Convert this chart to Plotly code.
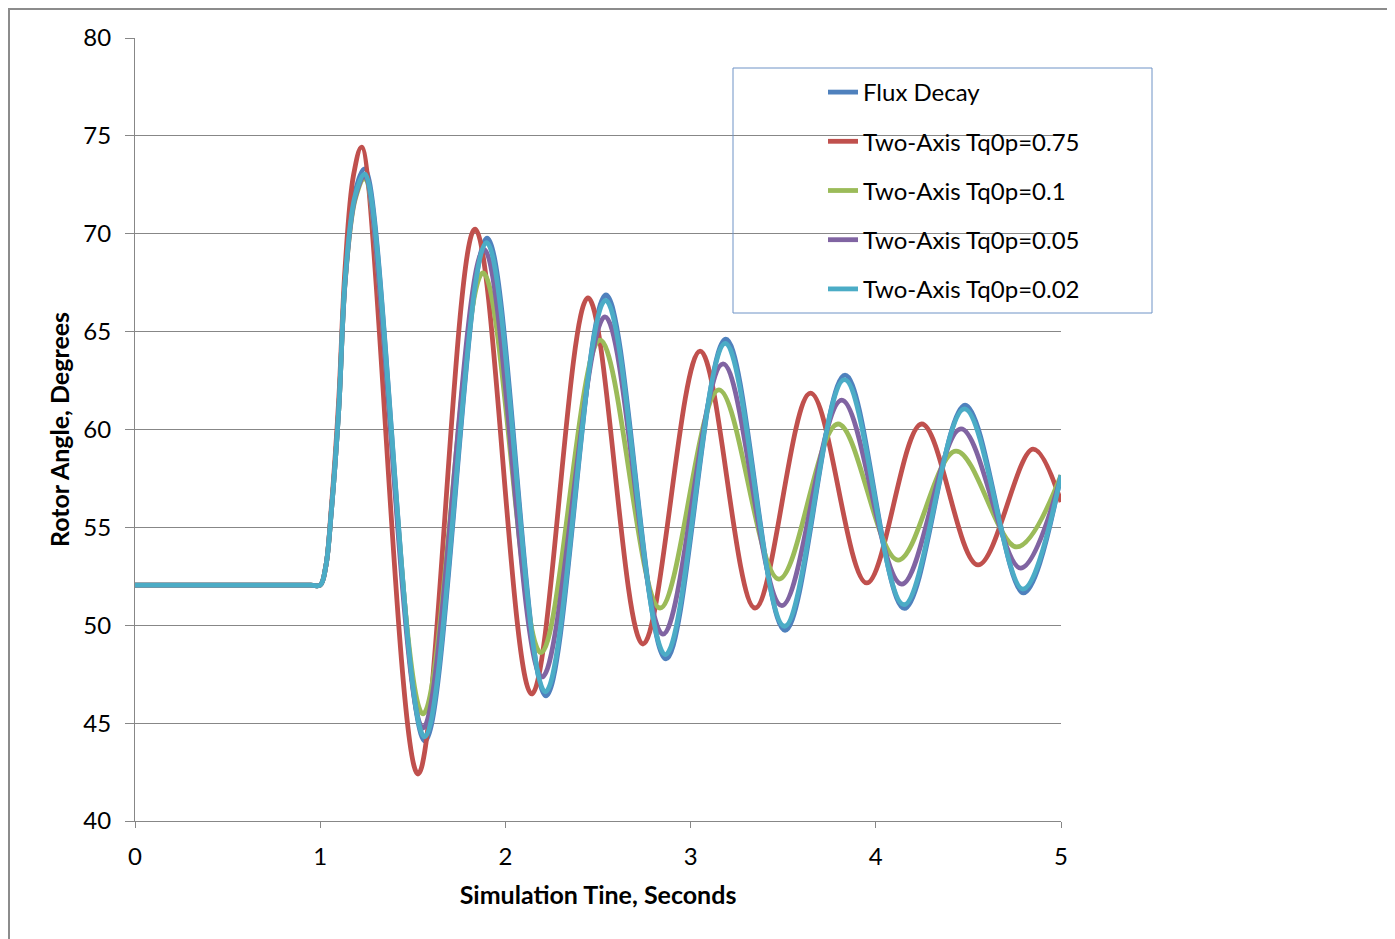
import plotly.graph_objects as go

# ---- data ----
t_flux = [0.0, 0.5, 0.95, 1.0, 1.03, 1.06, 1.10, 1.136, 1.19, 1.242, 1.566, 1.901, 2.219, 2.543,
          2.867, 3.190, 3.510, 3.834, 4.155, 4.482, 4.797, 5.0]
v_flux = [52.05, 52.05, 52.05, 52.05, 53.0, 55.8, 61.0, 67.8, 72.2, 73.31, 44.09, 69.78, 46.39, 66.87,
          48.28, 64.62, 49.74, 62.78, 50.86, 61.25, 51.65, 57.68]

t_r075 = [0.0, 0.5, 0.95, 1.0, 1.03, 1.06, 1.10, 1.134, 1.18, 1.224, 1.528, 1.836, 2.142, 2.446,
          2.743, 3.051, 3.348, 3.648, 3.951, 4.248, 4.552, 4.849, 5.0]
v_r075 = [52.05, 52.05, 52.05, 52.05, 53.0, 56.0, 61.5, 68.2, 73.0, 74.43, 42.4, 70.24, 46.49, 66.72,
          49.04, 64.0, 50.88, 61.86, 52.16, 60.28, 53.08, 59.0, 56.3]

t_r010 = [0.0, 0.5, 0.95, 1.0, 1.03, 1.06, 1.10, 1.136, 1.19, 1.24, 1.555, 1.879, 2.192, 2.511,
          2.835, 3.153, 3.477, 3.796, 4.12, 4.433, 4.761, 5.0]
v_r010 = [52.05, 52.05, 52.05, 52.05, 53.0, 55.8, 61.0, 67.7, 71.8, 72.8, 45.47, 68.0, 48.6, 64.57,
          50.88, 62.02, 52.36, 60.28, 53.33, 58.9, 54.0, 57.65]

t_r005 = [0.0, 0.5, 0.95, 1.0, 1.03, 1.06, 1.10, 1.136, 1.19, 1.24, 1.555, 1.884, 2.198, 2.538,
          2.851, 3.175, 3.493, 3.816, 4.14, 4.46, 4.782, 5.0]
v_r005 = [52.05, 52.05, 52.05, 52.05, 53.0, 55.8, 61.0, 67.7, 71.9, 72.9, 44.75, 69.2, 47.36, 65.75,
          49.55, 63.35, 51.0, 61.5, 52.1, 60.03, 52.92, 57.6]

t_r002 = [0.0, 0.5, 0.95, 1.0, 1.03, 1.06, 1.10, 1.136, 1.19, 1.242, 1.564, 1.898, 2.216, 2.541,
          2.864, 3.187, 3.507, 3.831, 4.152, 4.479, 4.794, 5.0]
v_r002 = [52.05, 52.05, 52.05, 52.05, 53.0, 55.8, 61.0, 67.8, 72.0, 73.05, 44.3, 69.55, 46.6, 66.6,
          48.5, 64.4, 49.95, 62.55, 51.05, 61.05, 51.85, 57.65]

series = [
    ("Flux Decay", t_flux, v_flux, "#4F81BD"),
    ("Two-Axis Tq0p=0.75", t_r075, v_r075, "#C0504D"),
    ("Two-Axis Tq0p=0.1", t_r010, v_r010, "#9BBB59"),
    ("Two-Axis Tq0p=0.05", t_r005, v_r005, "#8064A2"),
    ("Two-Axis Tq0p=0.02", t_r002, v_r002, "#4BACC6"),
]

x_ticks = [0, 1, 2, 3, 4, 5]
y_ticks = [40, 45, 50, 55, 60, 65, 70, 75, 80]

FONT = "Lato"
GRID = "#878787"

fig = go.Figure()
for i, (name, t, v, c) in enumerate(series):
    fig.add_trace(go.Scatter(
        x=t, y=v, name=name, mode="lines",
        line=dict(color=c, width=4.8, shape="spline", smoothing=1.0),
        legendgroup=f"g{i}",
    ))

# page has an 8px body margin; figure coordinates = page coordinates - 8
OFF = 8
W, H = 1395 - OFF, 939 - OFF
L, R, T, B = 135 - OFF, 334, 38 - OFF, 118
pw, ph = W - L - R, H - T - B

def px_x(p):  # page pixel -> paper x
    return (p - OFF - L) / pw

def px_y(p):  # page pixel -> paper y
    return 1 - (p - OFF - T) / ph

fig.update_layout(
    width=W, height=H,
    margin=dict(l=L, r=R, t=T, b=B, pad=0),
    paper_bgcolor="white", plot_bgcolor="white",
    font=dict(family=FONT, size=24, color="#000000"),
    showlegend=True,
    legend=dict(
        x=px_x(823), y=px_y(70), xanchor="left", yanchor="top",
        bgcolor="rgba(0,0,0,0)", borderwidth=0,
        font=dict(family=FONT, size=24, color="#000000"),
        tracegroupgap=15,
    ),
    xaxis=dict(
        range=[0, 5], tickvals=x_ticks, ticktext=[str(v) for v in x_ticks],
        showgrid=False, zeroline=False,
        showline=True, linecolor=GRID, linewidth=1,
        ticks="outside", ticklen=6, tickcolor=GRID, tickwidth=1,
        ticklabelstandoff=8,
        tickfont=dict(family=FONT, size=24),
        title=dict(text="<b>Simulation Tine, Seconds</b>", font=dict(family=FONT, size=25), standoff=17),
    ),
    yaxis=dict(
        range=[40, 80], tickvals=y_ticks, ticktext=[str(v) for v in y_ticks],
        showgrid=True, gridcolor=GRID, gridwidth=1, zeroline=False,
        showline=True, linecolor=GRID, linewidth=1,
        ticks="outside", ticklen=9, tickcolor=GRID, tickwidth=1,
        ticklabelstandoff=9,
        tickfont=dict(family=FONT, size=24),
        title=dict(text="<b>Rotor Angle, Degrees</b>", font=dict(family=FONT, size=25), standoff=6),
    ),
    shapes=[
        # legend box
        dict(type="rect", xref="paper", yref="paper",
             x0=px_x(733), x1=px_x(1152), y0=px_y(313), y1=px_y(68),
             line=dict(color="#6E93C6", width=1), fillcolor="rgba(0,0,0,0)", layer="above"),
        # outer chart frame
        dict(type="rect", xref="paper", yref="paper",
             x0=px_x(9), x1=px_x(1420), y0=px_y(980), y1=px_y(9),
             line=dict(color="#8C8C8C", width=2), fillcolor="rgba(0,0,0,0)", layer="below"),
    ],
)

fig.write_html("out.html")
